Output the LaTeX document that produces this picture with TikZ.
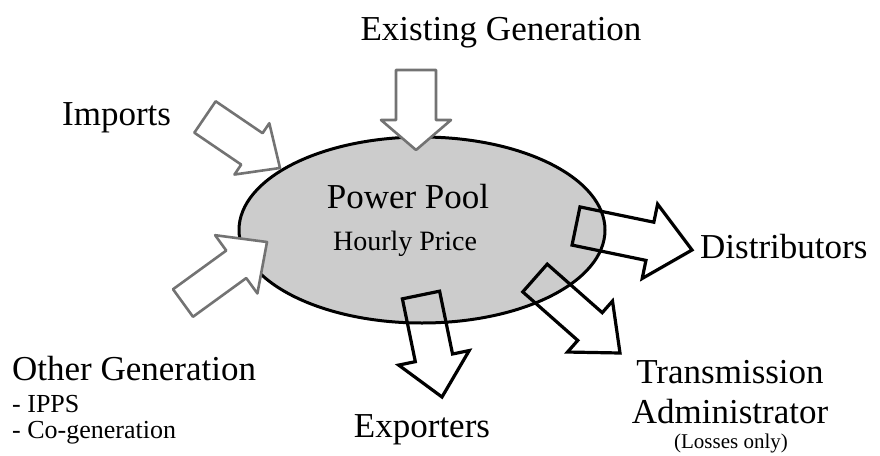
\documentclass[tikz,border=0pt]{standalone}
\usepackage{fontspec}
\setmainfont{Liberation Serif}
\usetikzlibrary{calc, shapes.geometric}

% wide block arrow: [style]{tail}{tip}{half shaft}{half head}{head length}
\newcommand{\blockarrow}[6][]{%
  \coordinate (ba-base) at ($(#3)!#6!(#2)$);
  \draw[#1] ($(#2)!#4!90:(#3)$) -- ($(ba-base)!#4!90:(#3)$) -- ($(ba-base)!#5!90:(#3)$)
    -- (#3) -- ($(ba-base)!#5!-90:(#3)$) -- ($(ba-base)!#4!-90:(#3)$)
    -- ($(#2)!#4!-90:(#3)$) -- cycle;
}

\begin{document}
\begin{tikzpicture}[x=1pt, y=-1pt,
    inflow/.style={draw=black!55, line width=2.6pt, fill=white, line join=round},
    outflow/.style={draw=black, line width=3.2pt, line join=miter},
    big/.style={font=\fontsize{35}{40}\selectfont, inner sep=0pt},
    small/.style={font=\fontsize{26}{30}\selectfont, inner sep=0pt}]
  \useasboundingbox (0,0) rectangle (880,455);

  % the pool
  \node[ellipse, draw, line width=3pt, fill=black!20, inner sep=0pt,
        minimum width=366pt, minimum height=186pt] (pool) at (422,230) {};

  % arrow ends
  \coordinate (ex-tail) at (416,70);   \coordinate (ex-tip) at (416,150);
  \coordinate (im-tail) at (205,117);  \coordinate (im-tip) at (280,168);
  \coordinate (og-tail) at (183,303);  \coordinate (og-tip) at (267,242);
  \coordinate (xp-tail) at (421,295);  \coordinate (xp-tip) at (442,397);
  \coordinate (ds-tail) at (576,226);  \coordinate (ds-tip) at (692,250);
  \coordinate (ta-tail) at (535,278);  \coordinate (ta-tip) at (620,353);

  % supply side
  \blockarrow[inflow]{ex-tail}{ex-tip}{20pt}{35pt}{30pt}
  \blockarrow[inflow]{im-tail}{im-tip}{19pt}{31pt}{34pt}
  \blockarrow[inflow]{og-tail}{og-tip}{17pt}{36pt}{38pt}

  % demand side
  \blockarrow[outflow]{xp-tail}{xp-tip}{19pt}{36pt}{40pt}
  \blockarrow[outflow]{ds-tail}{ds-tip}{19.5pt}{38pt}{43pt}
  \blockarrow[outflow]{ta-tail}{ta-tip}{18.5pt}{34pt}{40pt}

  % labels
  \node[big, anchor=base] (poolname) at (408,208) {Power Pool};
  \node[font=\fontsize{28}{32}\selectfont, inner sep=0pt, anchor=base] (price) at (405,250) {Hourly Price};
  \node[big, anchor=base] (exist) at (501,40) {Existing Generation};
  \node[big, anchor=base west] (imports) at (62,125) {Imports};
  \node[big, anchor=base west] (distrib) at (700,258) {Distributors};
  \node[big, anchor=base] (trans) at (730,383) {Transmission};
  \node[big, anchor=base] (admin) at (730,423) {Administrator};
  \node[font=\fontsize{21}{25}\selectfont, inner sep=0pt, anchor=base] (losses) at (731,448) {(Losses only)};
  \node[big, anchor=base] (export) at (422,437) {Exporters};
  \node[big, anchor=base west] (othergen) at (12,380) {Other Generation};
  \node[small, anchor=base west] (ipps) at (12,412) {- IPPS};
  \node[small, anchor=base west] (cogen) at (12,438) {- Co-generation};
\end{tikzpicture}
\end{document}
